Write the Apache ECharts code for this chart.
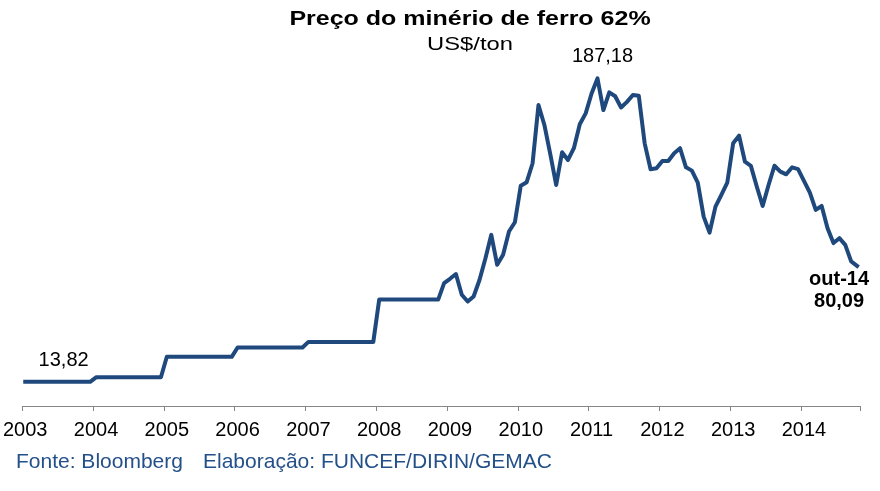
<!DOCTYPE html>
<html>
<head>
<meta charset="utf-8">
<script src="https://cdn.jsdelivr.net/npm/echarts@6/dist/echarts.min.js"></script>
<style>
  html, body { margin: 0; padding: 0; background: #fff; }
  #main { width: 880px; height: 491px; }
</style>
</head>
<body>
<div id="main"></div>
<script>
// preço mensal do minério de ferro 62% (US$/ton), jan-03 .. out-14
var p2003 = [13.82, 13.82, 13.82, 13.82, 13.82, 13.82, 13.82, 13.82, 13.82, 13.82, 13.82, 13.82];
var p2004 = [16.39, 16.39, 16.39, 16.39, 16.39, 16.39, 16.39, 16.39, 16.39, 16.39, 16.39, 16.39];
var p2005 = [28.11, 28.11, 28.11, 28.11, 28.11, 28.11, 28.11, 28.11, 28.11, 28.11, 28.11, 28.11];
var p2006 = [33.45, 33.45, 33.45, 33.45, 33.45, 33.45, 33.45, 33.45, 33.45, 33.45, 33.45, 33.45];
var p2007 = [36.63, 36.63, 36.63, 36.63, 36.63, 36.63, 36.63, 36.63, 36.63, 36.63, 36.63, 36.63];
var p2008 = [60.8, 60.8, 60.8, 60.8, 60.8, 60.8, 60.8, 60.8, 60.8, 60.8, 60.8, 70.2];
var p2009 = [72.7, 75.4, 63.6, 59.7, 62.6, 72.0, 84.3, 97.8, 80.7, 86.4, 99.7, 105.0];
var p2010 = [125.9, 127.9, 138.7, 172.0, 160.6, 143.9, 126.3, 145.0, 140.6, 147.3, 161.0, 167.2];
var p2011 = [178.6, 187.18, 169.1, 179.2, 177.0, 170.6, 173.8, 177.7, 177.3, 150.1, 135.3, 135.8];
var p2012 = [140.0, 140.0, 144.4, 147.3, 136.4, 134.5, 127.6, 108.2, 99.1, 113.9, 120.6, 127.6];
var p2013 = [150.1, 154.5, 139.6, 137.2, 125.4, 114.3, 126.3, 137.3, 133.9, 132.4, 136.4, 135.4];
var p2014 = [128.6, 121.9, 112.1, 114.3, 101.6, 93.1, 95.9, 92.1, 82.6, 80.09];

var years = ['2003', '2004', '2005', '2006', '2007', '2008', '2009', '2010', '2011', '2012', '2013', '2014'];
var mesesPt = ['jan', 'fev', 'mar', 'abr', 'mai', 'jun', 'jul', 'ago', 'set', 'out', 'nov', 'dez'];

var prices = [].concat(p2003, p2004, p2005, p2006, p2007, p2008, p2009, p2010, p2011, p2012, p2013, p2014);

var blue = '#1F497D';
var font = '"Liberation Sans", Arial, sans-serif';

// month categories: jan-03, fev-03, ...
var months = [];
for (var i = 0; i < prices.length; i++) {
  months.push(mesesPt[i % 12] + '-' + years[Math.floor(i / 12)].slice(2));
}

function isJan(idx) {
  return idx % 12 === 0;
}

function fmt(v) {
  return v.toFixed(2).replace('.', ',');
}

var peakIdx = 0;
for (var k = 1; k < prices.length; k++) {
  if (prices[k] > prices[peakIdx]) peakIdx = k;
}
var lastIdx = prices.length - 1;
var firstLabelIdx = 6;

var chart = echarts.init(document.getElementById('main'));

chart.setOption({
  animation: false,
  backgroundColor: '#fff',
  grid: { left: 22, right: 20, top: 56, bottom: 85 },
  graphic: [
    { type: 'text', x: 470, y: 19, scaleX: 1.25,
      style: { text: 'Preço do minério de ferro 62%', align: 'center', verticalAlign: 'middle',
               textAlign: 'center', textVerticalAlign: 'middle',
               fontSize: 20, fontWeight: 'bold', fontFamily: font, fill: '#000' } },
    { type: 'text', x: 470, y: 45, scaleX: 1.25,
      style: { text: 'US$/ton', align: 'center', verticalAlign: 'middle',
               textAlign: 'center', textVerticalAlign: 'middle',
               fontSize: 19, fontFamily: font, fill: '#000' } },
    { type: 'text', x: 16, y: 462,
      style: { text: 'Fonte: Bloomberg', verticalAlign: 'middle', textVerticalAlign: 'middle',
               fontSize: 21, fontFamily: font, fill: '#24508A' } },
    { type: 'text', x: 203, y: 462,
      style: { text: 'Elaboração: FUNCEF/DIRIN/GEMAC', verticalAlign: 'middle', textVerticalAlign: 'middle',
               fontSize: 21, fontFamily: font, fill: '#24508A' } }
  ],
  xAxis: {
    type: 'category',
    data: months,
    boundaryGap: true,
    axisLine: { show: true, lineStyle: { color: '#868686', width: 1 } },
    axisTick: { show: true, length: 5, alignWithLabel: false,
                interval: function (idx) { return isJan(idx); },
                lineStyle: { color: '#868686' } },
    axisLabel: {
      interval: function (idx) { return isJan(idx); },
      formatter: function (v) { return '20' + v.slice(4); },
      fontSize: 20, fontFamily: font, color: '#000', margin: 14
    },
    splitLine: { show: false }
  },
  yAxis: {
    type: 'value', min: 0, max: 200, show: false,
    splitLine: { show: false }
  },
  series: [{
    type: 'line',
    data: prices,
    symbol: 'none',
    showSymbol: false,
    lineStyle: { color: blue, width: 4, cap: 'square', join: 'round' },
    markPoint: {
      symbol: 'circle',
      symbolSize: 0,
      label: { show: true, color: '#000', fontSize: 20, fontFamily: font },
      data: [
        { coord: [months[firstLabelIdx], prices[firstLabelIdx]], value: prices[firstLabelIdx],
          label: { position: 'top', distance: 11, offset: [3, 0],
                   formatter: function (p) { return fmt(p.value); } } },
        { coord: [months[peakIdx], prices[peakIdx]], value: prices[peakIdx],
          label: { position: 'top', distance: 12, offset: [5, 0],
                   formatter: function (p) { return fmt(p.value); } } },
        { coord: [months[lastIdx], prices[lastIdx]], value: prices[lastIdx],
          label: { position: 'bottom', distance: 3, offset: [-18, 0], fontWeight: 'bold',
                   lineHeight: 22, align: 'center',
                   formatter: function (p) { return months[lastIdx] + '\n' + fmt(p.value); } } }
      ]
    }
  }]
});
</script>
</body>
</html>
